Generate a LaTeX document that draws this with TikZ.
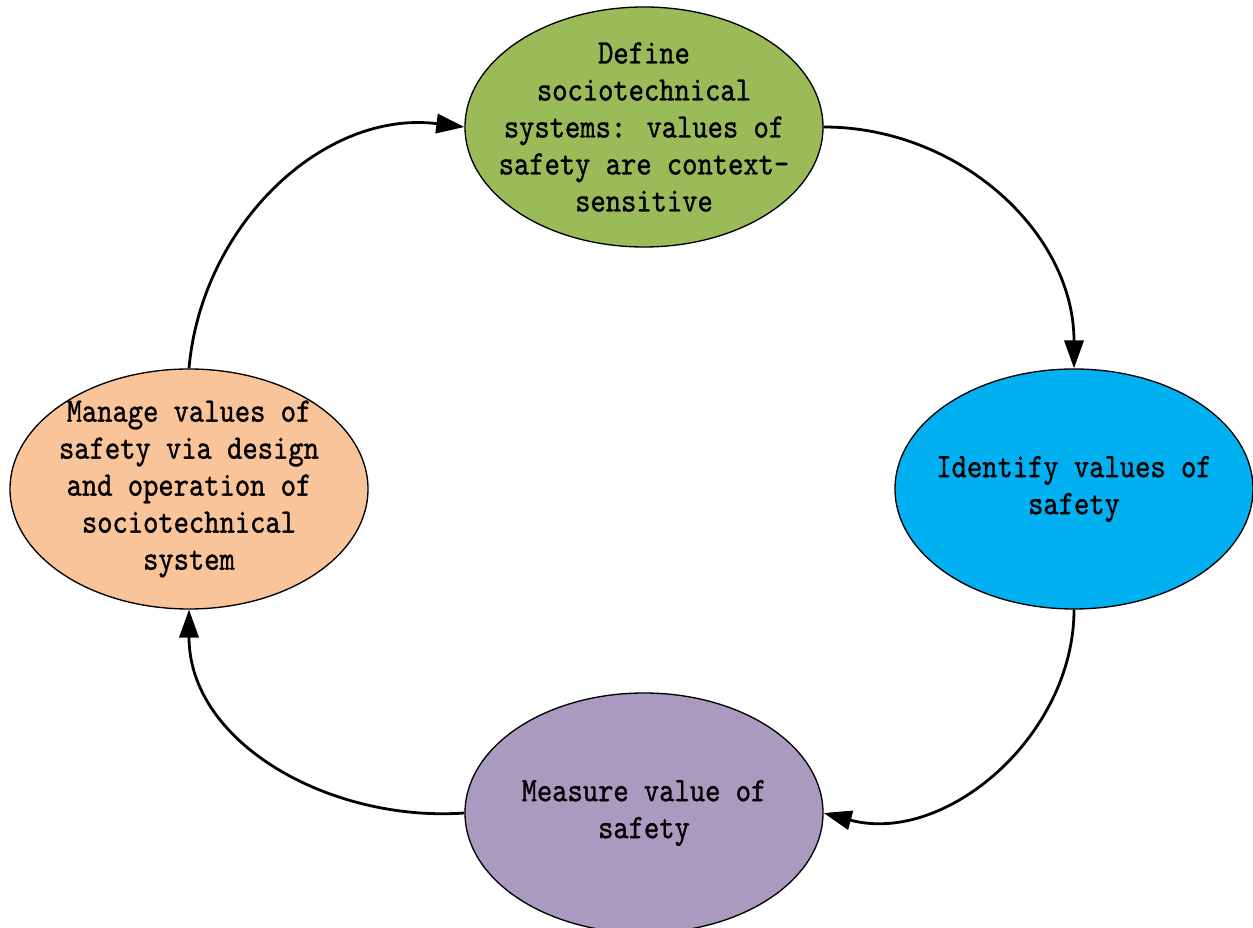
\documentclass[tikz,border=0pt]{standalone}
\usepackage{fontspec}
\usetikzlibrary{shapes.geometric,arrows.meta}
\newfontfamily\diafont{lmmono10-regular.otf}[FakeStretch=0.85,FakeBold=1.0]
\definecolor{cgreen}{HTML}{9BBB59}
\definecolor{cblue}{HTML}{00B0F0}
\definecolor{corange}{HTML}{F9C499}
\definecolor{cpurple}{HTML}{AB9ABF}
\tikzset{
  blob/.style={ellipse, draw=black, line width=1pt, minimum width=268.5pt, minimum height=180pt, inner sep=0pt},
  txt/.style={align=center, inner sep=0pt,
    font=\diafont\fontsize{25.7pt}{27.75pt}\selectfont},
  flow/.style={line width=2.1pt, -{Triangle[length=21pt,width=14.5pt]}}
}
\begin{document}
\begin{tikzpicture}[x=0.75pt,y=0.75pt]
\useasboundingbox (0,0) rectangle (1253,928);
\node[blob, fill=cgreen] (def) at (644,801) {};
\node[blob, fill=cblue] (ide) at (1074,439) {};
\node[blob, fill=cpurple] (mea) at (644,115) {};
\node[blob, fill=corange] (man) at (189,439) {};
\node[txt] (deft) at (def) {Define\\sociotechnical\\systems: values of\\safety are context-\\sensitive};
\node[txt] (idet) at (ide) {Identify values of\\safety};
\node[txt] (meat) at (mea) {Measure value of\\safety};
\node[txt] (mant) at (man) {Manage values of\\safety via design\\and operation of\\sociotechnical\\system};
\draw[flow] (def.east) to[out=0,in=90] (ide.north);
\draw[flow] (ide.south) to[out=-90,in=-15] (mea.east);
\draw[flow] (mea.west) to[out=184,in=-90] (man.south);
\draw[flow] (man.north) to[out=85,in=173] (def.west);
\end{tikzpicture}
\end{document}
